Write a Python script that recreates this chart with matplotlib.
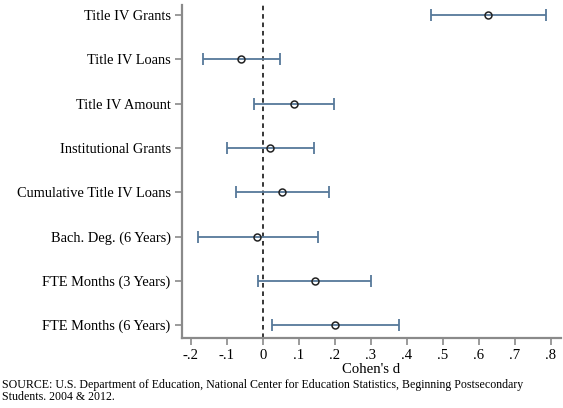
import matplotlib
matplotlib.use("Agg")
import matplotlib.pyplot as plt

# Effect sizes (Cohen's d) with confidence intervals
labels = ["Title IV Grants", "Title IV Loans", "Title IV Amount",
          "Institutional Grants", "Cumulative Title IV Loans",
          "Bach. Deg. (6 Years)", "FTE Months (3 Years)", "FTE Months (6 Years)"]
d = [0.625, -0.060, 0.085, 0.020, 0.054, -0.015, 0.144, 0.199]
lo = [0.467, -0.166, -0.025, -0.100, -0.076, -0.181, -0.013, 0.024]
hi = [0.787, 0.048, 0.197, 0.142, 0.183, 0.152, 0.301, 0.378]
xticks = [-0.2, -0.1, 0, 0.1, 0.2, 0.3, 0.4, 0.5, 0.6, 0.7, 0.8]
xticklabels = ["-.2", "-.1", "0", ".1", ".2", ".3", ".4", ".5", ".6", ".7", ".8"]

plt.rcParams["font.family"] = ["Liberation Serif", "DejaVu Serif"]

fig = plt.figure(figsize=(5.63, 4.08), dpi=100)
ax = fig.add_axes([0.323, 0.1716, 0.673, 0.8164])

ypos = list(range(len(labels)))[::-1]
err = [[c - l for c, l in zip(d, lo)], [h - c for c, h in zip(d, hi)]]
line_col = "#56789a"

ax.axvline(0, color="black", linestyle=(0, (3, 2.5)), linewidth=1.1, zorder=1)
ax.errorbar(d, ypos, xerr=err, fmt="none", ecolor=line_col, elinewidth=1.3,
            capsize=4, capthick=1.3, zorder=2)
ax.plot(d, ypos, "o", markerfacecolor="none", markeredgecolor="#222222",
        markersize=5, markeredgewidth=1.1, zorder=3)

ax.set_xlim(-0.225, 0.827)
ax.set_ylim(-0.29, len(labels) - 1 + 0.23)
ax.set_yticks(ypos)
ax.set_yticklabels(labels, fontsize=10.4)
ax.set_xticks(xticks)
ax.set_xticklabels(xticklabels, fontsize=10.6)
ax.set_xlabel("Cohen's d", fontsize=10.6, labelpad=1)

for s in ["top", "right"]:
    ax.spines[s].set_visible(False)
for s in ["left", "bottom"]:
    ax.spines[s].set_color("#8a8a8a")
    ax.spines[s].set_linewidth(1.6)
ax.tick_params(axis="both", color="#8a8a8a", width=1.2, length=5, pad=3)

fig.text(0.003, 0.042, "SOURCE: U.S. Department of Education, National Center for Education Statistics, Beginning Postsecondary\nStudents. 2004 & 2012.",
         fontsize=8.6, ha="left", va="center", linespacing=1.05)

fig.savefig("out.png", dpi=100)
